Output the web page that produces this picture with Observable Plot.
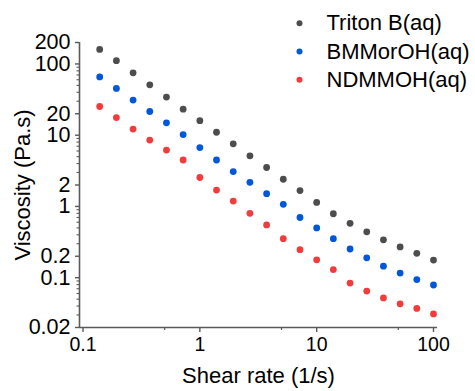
<!DOCTYPE html>
<html><head><meta charset="utf-8">
<script src="https://cdn.jsdelivr.net/npm/d3@7"></script>
<script src="https://cdn.jsdelivr.net/npm/@observablehq/plot@0.6"></script>
<style>
html,body{margin:0;padding:0;background:#fff;}
svg{display:block;}
</style></head><body><div id="chart"></div>
<script>
// Data
const shearRate = [0.1389, 0.1931, 0.2683, 0.3728, 0.5179, 0.7197, 1.0, 1.389, 1.931, 2.683, 3.728, 5.179, 7.197, 10.0, 13.89, 19.31, 26.83, 37.28, 51.79, 71.97, 100.0];
const tritonB = [160, 111, 75, 51, 34.3, 23.2, 16.0, 11.0, 7.56, 5.13, 3.52, 2.41, 1.67, 1.14, 0.79, 0.58, 0.44, 0.34, 0.27, 0.22, 0.177];
const bmmorOH = [65.8, 45.4, 31.1, 21.5, 14.9, 10.2, 6.7, 4.49, 3.09, 2.18, 1.51, 1.07, 0.70, 0.50, 0.353, 0.253, 0.19, 0.145, 0.116, 0.094, 0.079];
const ndmmOH = [25.3, 17.7, 12.2, 8.55, 6.18, 4.49, 2.55, 1.70, 1.19, 0.80, 0.55, 0.353, 0.247, 0.178, 0.130, 0.084, 0.065, 0.052, 0.043, 0.037, 0.031];
const seriesNames = ["Triton B(aq)", "BMMorOH(aq)", "NDMMOH(aq)"];
const seriesColors = ["#4d4d4d", "#0057d9", "#f23c3c"];
const xMajorTicks = [0.1, 1, 10, 100];
const xMinorTicks = [0.5, 5, 50];
const yMajorTicks = [0.02, 0.1, 0.2, 1, 2, 10, 20, 100, 200];
const yMinorTicks = [0.03, 0.04, 0.05, 0.06, 0.07, 0.08, 0.09, 0.3, 0.4, 0.5, 0.6, 0.7, 0.8, 0.9, 3, 4, 5, 6, 7, 8, 9, 30, 40, 50, 60, 70, 80, 90];
const xDomain = [0.0933, 108.2];
const yDomain = [0.02, 200];
const xTitle = "Shear rate (1/s)";
const yTitle = "Viscosity (Pa.s)";

const seriesValues = [tritonB, bmmorOH, ndmmOH];
const rows = [];
seriesValues.forEach((vals, i) => vals.forEach((v, j) => rows.push({series: seriesNames[i], x: shearRate[j], y: v})));

const axisColor = "#5a5a5a";
const font = "Arial, 'Liberation Sans', Helvetica, sans-serif";
const fmt = d => String(d);

const legendMarks = seriesNames.flatMap((name, i) => [
  Plot.dot([name], {frameAnchor: "top-right", dx: -138, dy: -19.3 + i * 28.3, r: 3, fill: d => d}),
  Plot.text([name], {frameAnchor: "top-right", dx: -111, dy: -19.3 + i * 28.3, text: d => d, textAnchor: "start", lineAnchor: "middle", fontSize: 22, fill: "#000"})
]);

const chart = Plot.plot({
  width: 475, height: 391,
  marginLeft: 79, marginRight: 38, marginTop: 42, marginBottom: 64,
  style: {fontFamily: font, color: "#000", background: "#fff", overflow: "visible"},
  x: {type: "log", domain: xDomain},
  y: {type: "log", domain: yDomain},
  color: {domain: seriesNames, range: seriesColors},
  marks: [
    Plot.axisX(xMajorTicks, {tickSize: 5, tickPadding: 5, fontSize: 19.5, tickFormat: fmt, stroke: axisColor, fill: "#000", strokeWidth: 1.4, label: null}),
    Plot.axisX(xMinorTicks, {tickSize: 3, tickPadding: 5, tickFormat: () => "", stroke: axisColor, strokeWidth: 1.2, label: null}),
    Plot.axisY(yMajorTicks, {tickSize: 4, tickPadding: 5, fontSize: 21.5, tickFormat: fmt, stroke: axisColor, fill: "#000", strokeWidth: 1.4, label: null}),
    Plot.axisY(yMinorTicks, {tickSize: 2.5, tickPadding: 5, tickFormat: () => "", stroke: axisColor, strokeWidth: 1.1, label: null}),
    Plot.ruleY([yDomain[0]], {stroke: axisColor, strokeWidth: 1.6}),
    Plot.ruleX([xDomain[0]], {stroke: axisColor, strokeWidth: 1.6}),
    Plot.dot(rows, {x: "x", y: "y", fill: "series", r: 3.4}),
    Plot.text([xTitle], {frameAnchor: "bottom", dy: 48.5, lineAnchor: "middle", textAnchor: "middle", fontSize: 22, fill: "#000", text: d => d}),
    Plot.text([yTitle], {frameAnchor: "left", dx: -57, rotate: -90, lineAnchor: "middle", textAnchor: "middle", fontSize: 22, fill: "#000", text: d => d}),
    ...legendMarks
  ]
});
document.getElementById("chart").appendChild(chart);
</script>
</body></html>
